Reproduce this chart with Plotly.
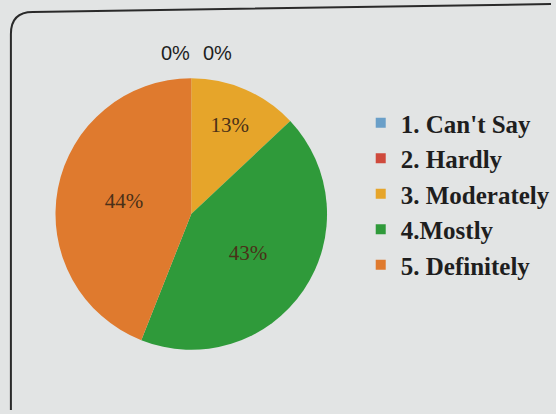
import plotly.graph_objects as go

categories = ["1. Can't Say", "2. Hardly", "3. Moderately", "4.Mostly", "5. Definitely"]
values = [0, 0, 13, 43, 44]
colors = ["#6a9fc8", "#cf4a3c", "#e6a52a", "#2f9a3a", "#df7a2e"]

W, H = 556, 414
def px(x):
    return x / W
def py(y):
    return 1 - y / H

fig = go.Figure()
fig.add_trace(go.Pie(
    labels=categories, values=values, sort=False, direction="clockwise", rotation=0,
    marker=dict(colors=colors, line=dict(width=0)),
    texttemplate="%{percent:.0%}",
    textposition=["none" if v == 0 else "inside" for v in values],
    insidetextorientation="horizontal",
    textfont=dict(family="Liberation Serif", size=21, color="#4a3018"),
    showlegend=False, hoverinfo="label+percent",
    domain=dict(x=[px(56), px(330)], y=[py(351), py(77)]),
))

# zero-valued slices: labels side by side above the top of the pie
zero_x = [177, 219]
zi = 0
annotations = []
for c, v in zip(categories, values):
    if v == 0 and zi < len(zero_x):
        annotations.append(dict(
            x=px(zero_x[zi]), y=py(53), xref="paper", yref="paper",
            text=f"{v}%", showarrow=False, xanchor="center", yanchor="middle",
            font=dict(family="Liberation Sans", size=20, color="#1e1e1e")))
        zi += 1

for c, col in zip(categories, colors):
    fig.add_trace(go.Scatter(
        x=[None], y=[None], mode="markers", name=c, legendgroup=c,
        marker=dict(symbol="square", size=10, color=col),
    ))

path = (f"M {px(11)},{py(410)} L {px(11)},{py(34)} Q {px(11)},{py(12)} {px(33)},{py(12)} "
        f"L {px(556)},{py(4)}")
fig.update_layout(
    width=W, height=H, margin=dict(l=0, r=0, t=0, b=0),
    paper_bgcolor="#e2e4e4", plot_bgcolor="#e2e4e4",
    xaxis=dict(visible=False), yaxis=dict(visible=False),
    legend=dict(x=px(364), y=py(100), xanchor="left", yanchor="top",
                traceorder="grouped", tracegroupgap=0, itemwidth=30,
                bgcolor="rgba(0,0,0,0)",
                font=dict(family="Liberation Serif", size=25, color="#1e1e1e", weight="bold")),
    annotations=annotations,
    shapes=[dict(type="path", path=path, xref="paper", yref="paper",
                 line=dict(color="#2a2a2a", width=2))],
)
fig.write_html("out.html", config={"displayModeBar": False},
               post_script="document.body.style.margin='0';document.body.style.background='#e2e4e4';")
